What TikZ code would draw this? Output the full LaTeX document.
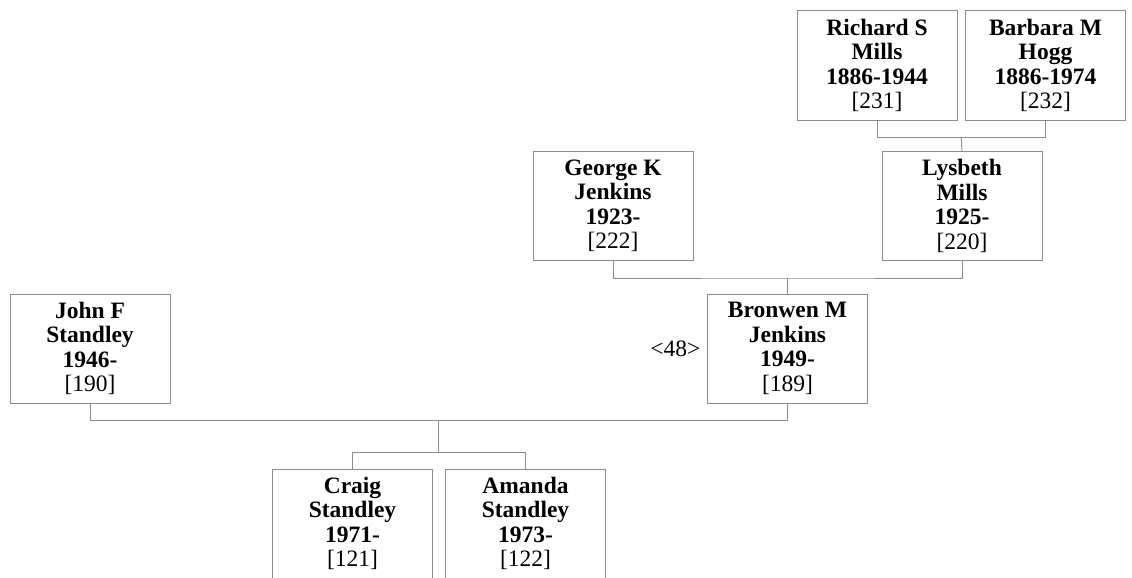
\documentclass[tikz,border=0pt]{standalone}
\usepackage{fontspec}
\setmainfont{Liberation Serif}
\usetikzlibrary{positioning, calc}
\definecolor{linegray}{gray}{0.55}

\begin{document}
\begin{tikzpicture}[
  x=1pt, y=-1pt,
  font=\fontsize{23.5}{24.5}\selectfont\bfseries,
  person/.style={draw=linegray, line width=1pt, inner sep=2pt, minimum width=160pt, minimum height=109pt, align=center},
  link/.style={draw=linegray, line width=1pt}
]
  \useasboundingbox (0,0) rectangle (1132,578);
  % grandparents
  \node[person] (richard) at (877,65.5) {Richard S\\Mills\\1886-1944\\{\normalfont [231]}};
  \node[person] (barbara) at (1045.5,65.5) {Barbara M\\Hogg\\1886-1974\\{\normalfont [232]}};
  % parents
  \node[person] (george) at (613,206) {George K\\Jenkins\\1923-\\{\normalfont [222]}};
  \node[person] (lysbeth) at (962,206) {Lysbeth\\Mills\\1925-\\{\normalfont [220]}};
  \node[person] (john) at (90,348.5) {John F\\Standley\\1946-\\{\normalfont [190]}};
  \node[person] (bronwen) at (787.5,348.5) {Bronwen M\\Jenkins\\1949-\\{\normalfont [189]}};
  \node[left=3pt of bronwen, font=\fontsize{23.5}{24.5}\selectfont] (gen) {<48>};
  % children
  \node[person] (craig) at (352.5,523.5) {Craig\\Standley\\1971-\\{\normalfont [121]}};
  \node[person] (amanda) at (525.5,523.5) {Amanda\\Standley\\1973-\\{\normalfont [122]}};

  % family lines
  \coordinate (mills) at ($(richard.south)!0.5!(barbara.south) + (0,17)$);
  \draw[link] (richard.south) |- (mills) -| (barbara.south);
  \draw[link] (mills) -- (lysbeth.north);
  \coordinate (jenkins) at ($(george.south)!0.5!(lysbeth.south) + (0,17)$);
  \draw[link] (george.south) |- (jenkins) -| (lysbeth.south);
  \draw[link] (jenkins -| bronwen.north) -- (bronwen.north);
  \coordinate (standley) at ($(john.south)!0.5!(bronwen.south) + (0,17)$);
  \draw[link] (john.south) |- (standley) -| (bronwen.south);
  \coordinate (kids) at ($(standley) + (0,32)$);
  \draw[link] (standley) -- (kids);
  \draw[link] (craig.north) |- (kids) -| (amanda.north);
\end{tikzpicture}
\end{document}
